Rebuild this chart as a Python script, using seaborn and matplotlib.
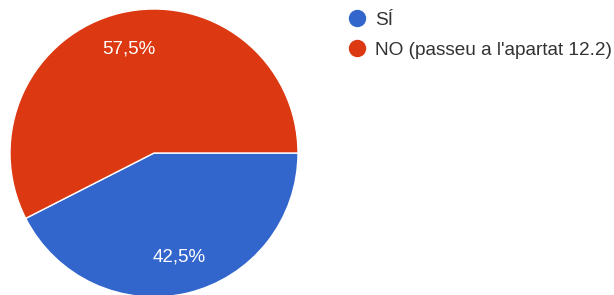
import matplotlib
matplotlib.use("Agg")
import matplotlib.pyplot as plt
from matplotlib.lines import Line2D
import numpy as np
import seaborn as sns

categories = ["SÍ", "NO (passeu a l'apartat 12.2)"]
values = [42.5, 57.5]
pct_labels = ["42,5%", "57,5%"]
colors = ["#3366cc", "#dc3912"]

sns.set_style("white")
plt.rcParams['font.family'] = ['Liberation Sans', 'DejaVu Sans']

W, H = 614, 295
fig = plt.figure(figsize=(W / 100, H / 100), dpi=100)
cx, cy, r = 154, 153, 144
ax = fig.add_axes([(cx - r) / W, (H - cy - r) / H, 2 * r / W, 2 * r / H])
wedges, texts = ax.pie(values, colors=colors, startangle=0, counterclock=False,
                       radius=1, wedgeprops=dict(edgecolor="white", linewidth=1))
for w, lab in zip(wedges, pct_labels):
    ang = np.deg2rad((w.theta1 + w.theta2) / 2)
    ax.text(0.74 * np.cos(ang), 0.74 * np.sin(ang), lab, ha="center", va="center",
            color="white", fontsize=13.5)
ax.set_xlim(-1, 1)
ax.set_ylim(-1, 1)
ax.set_aspect("equal")
ax.axis("off")

handles = [Line2D([0], [0], marker="o", linestyle="none", markersize=11.5,
                  markerfacecolor=c, markeredgecolor=c) for c in colors]
fig.legend(handles, categories, loc="upper left", bbox_to_anchor=(338 / W, 1 - 4 / H),
           frameon=False, fontsize=13.7, handletextpad=0.35, labelspacing=0.65,
           handlelength=1.2, labelcolor="#333333", borderaxespad=0)

fig.savefig("out.png", dpi=100)
